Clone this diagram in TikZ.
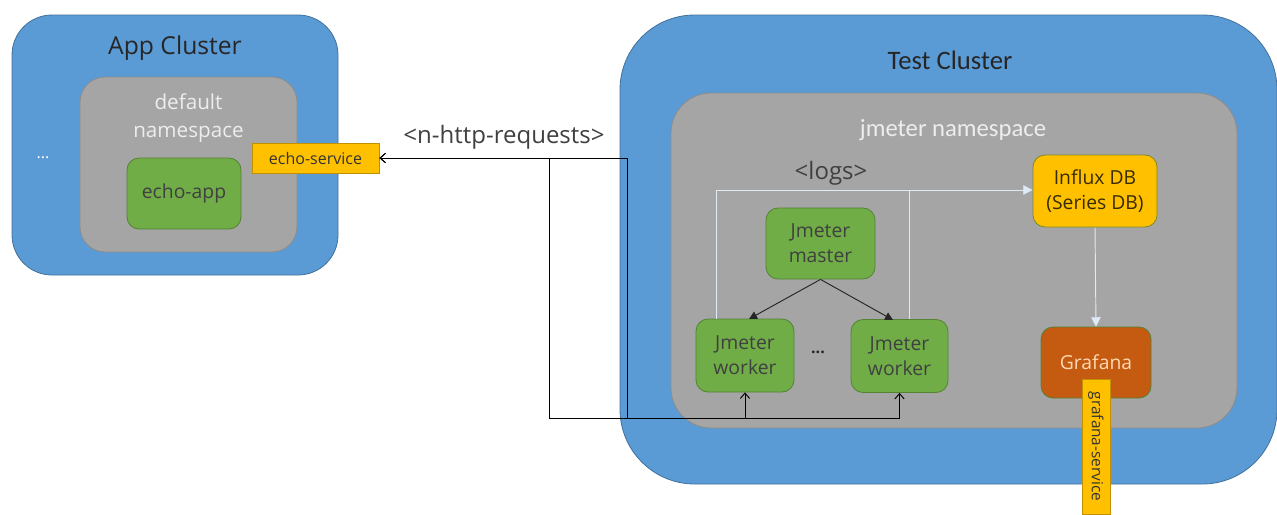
\documentclass[tikz,border=0pt]{standalone}
\usepackage{fontspec}
\setmainfont{Open Sans}
\newfontfamily\narrowfont{Carlito}
\usetikzlibrary{arrows.meta}
\definecolor{clblue}{HTML}{5B9BD5}
\definecolor{clblueb}{HTML}{41719C}
\definecolor{nsgray}{HTML}{A5A5A5}
\definecolor{nsgrayb}{HTML}{8C8C8C}
\definecolor{podgreen}{HTML}{70AD47}
\definecolor{podgreenb}{HTML}{548235}
\definecolor{svcyellow}{HTML}{FFC000}
\definecolor{svcyellowb}{HTML}{BF9000}
\definecolor{grafor}{HTML}{C55A11}
\definecolor{loglight}{HTML}{DEEBF7}
\definecolor{txtdark}{HTML}{404040}
\tikzset{
  cluster/.style={draw=clblueb, fill=clblue, line width=0.6pt, rounded corners=#1},
  nsbox/.style={draw=nsgrayb, fill=nsgray, line width=0.6pt, rounded corners=#1},
  pod/.style={draw=podgreenb, fill=podgreen, line width=0.6pt, rounded corners=9pt, align=center, text=txtdark, font=\fontsize{14.5}{18.5}\selectfont, inner sep=1pt},
  svc/.style={draw=svcyellowb, fill=svcyellow, line width=0.6pt, text=black!80, font=\fontsize{12}{14}\selectfont, inner sep=0pt},
  reqline/.style={draw=black, line width=0.7pt, {Straight Barb[length=4pt,width=7pt]}-{Straight Barb[length=4pt,width=7pt]}},
  logline/.style={draw=loglight, line width=0.7pt},
  title/.style={text=black!85, font=\fontsize{18.5}{22}\selectfont},
  nstitle/.style={text=black!7, font=\fontsize{15.5}{21}\selectfont, align=center},
}
\begin{document}
\begin{tikzpicture}[x=0.75pt, y=-0.75pt]
\useasboundingbox (0,0) rectangle (1277,514);
% App cluster
\node[cluster=30pt, minimum width=244.5pt, minimum height=195pt] (appc) at (175,145) {};
\node[title] (apptitle) at (175,48) {App Cluster};
\node[nsbox=18.75pt, minimum width=162.75pt, minimum height=131.25pt] (defns) at (188.5,164.5) {};
\node[nstitle] (deftitle) at (188.5,118) {default\\namespace};
\node[text=white, font=\fontsize{12}{14}\selectfont] (appdots) at (43,158) {...};
\node[pod, minimum width=85.5pt, minimum height=53.25pt] (echoapp) at (184,193.5) {echo-app};
\node[svc, minimum width=95.25pt, minimum height=22.5pt] (echosvc) at (315.5,158) {echo-service};
% Test cluster
\node[cluster=56pt, minimum width=492.75pt, minimum height=351.75pt] (testc) at (948.5,249.5) {};
\node[title, font=\narrowfont\fontsize{20}{24}\selectfont] (testtitle) at (950,60) {Test Cluster};
\node[nsbox=30pt, minimum width=424.5pt, minimum height=251.25pt] (jns) at (954,260.5) {};
\node[nstitle, font=\narrowfont\fontsize{18.5}{22}\selectfont] (jtitle) at (953,130) {jmeter namespace};
\node[pod, minimum width=81.75pt, minimum height=53.25pt] (master) at (820.5,243.5) {Jmeter\\master};
\node[pod, minimum width=73.5pt, minimum height=54.75pt] (w1) at (745,355.5) {Jmeter\\worker};
\node[pod, minimum width=72.75pt, minimum height=54.75pt] (w2) at (899.5,356) {Jmeter\\worker};
\node[font=\bfseries\fontsize{12}{14}\selectfont, text=black!85] (wdots) at (818,352) {...};
\node[pod, fill=svcyellow, draw=podgreenb!60!svcyellowb, text=black!70!svcyellowb, minimum width=93pt, minimum height=54pt] (influx) at (1095,191) {Influx DB\\(Series DB)};
\node[pod, fill=grafor, text=orange!30!white, minimum width=82.5pt, minimum height=53.25pt] (grafana) at (1096,362.5) {Grafana};
\node[svc, rotate=-90, minimum width=101.25pt, minimum height=21pt, font=\fontsize{11.5}{13}\selectfont] (grafsvc) at (1096,446.5) {grafana-service};
% logs
\coordinate (lgL) at (716,190);
\coordinate (lgR) at (909,190);
\draw[logline] (w1.north -| lgL) -- (lgL) -- (lgR);
\draw[logline, -{Triangle[length=7pt,width=7pt]}] (w2.north -| lgR) -- (lgR) -- (influx.west |- lgR);
\node[text=txtdark, font=\fontsize{18}{20}\selectfont] (logs) at (831,173) {<logs>};
\draw[logline, -{Triangle[length=7pt,width=7pt]}] (influx.south) -- (grafana.north);
% master -> workers
\draw[black!85, line width=0.7pt, -{Triangle[length=6pt,width=6pt]}] (master.south) -- (749,319);
\draw[black!85, line width=0.7pt, -{Triangle[length=6pt,width=6pt]}] (master.south) -- (893,320);
% requests
\coordinate (rqA) at (549,158);
\coordinate (rqB) at (549,418);
\coordinate (rqC) at (627,158);
\coordinate (rqD) at (627,418);
\draw[reqline] (echosvc.east) -- (rqA) -- (rqB) -- (w1.south |- rqB) -- (w1.south);
\draw[reqline] (echosvc.east) -- (rqC) -- (rqD) -- (w2.south |- rqD) -- (w2.south);
\node[text=txtdark, font=\fontsize{18}{20}\selectfont] (reqlbl) at (504,137) {<n-http-requests>};
\end{tikzpicture}
\end{document}
